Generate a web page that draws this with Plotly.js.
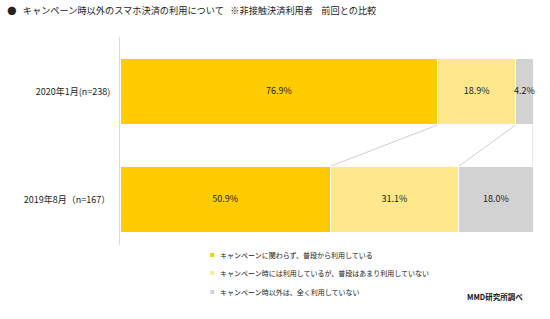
<!DOCTYPE html>
<html>
<head>
<meta charset="utf-8">
<script src="https://cdn.plot.ly/plotly-3.0.1.min.js"></script>
<style>html,body{margin:0;padding:0;background:#fff;}#chart{width:550px;height:319px;}</style>
</head>
<body>
<div id="chart"></div>
<script>
const categories = ["2019年8月（n=167）", "2020年1月(n=238)"];
const seriesNames = [
  "キャンペーンに関わらず、普段から利用している",
  "キャンペーン時には利用しているが、普段はあまり利用していない",
  "キャンペーン時以外は、全く利用していない"
];
const usesAlways = [50.9, 76.9];
const usesCampaignOnly = [31.1, 18.9];
const neverOutside = [18.0, 4.2];
const colors = ["#FFCC00", "#FFE88C", "#D2D2D2"];
const titleText = "●\u2002\u2009キャンペーン時以外のスマホ決済の利用について\u2002\u2009※非接触決済利用者\u2002\u2009\u2009前回との比較";
const sourceText = "MMD研究所調べ";

const series = [usesAlways, usesCampaignOnly, neverOutside];
const barWidth = 0.617;
const font = "'Noto Sans CJK JP', 'Noto Sans', sans-serif";

const traces = series.map((vals, i) => ({
  type: "bar",
  orientation: "h",
  name: seriesNames[i],
  y: categories,
  x: vals,
  width: barWidth,
  marker: {color: colors[i], line: {color: "#ffffff", width: 1}},
  hoverinfo: "skip",
  showlegend: false
}));

// value labels centred on each segment
const lx = [], ly = [], lt = [];
categories.forEach((c, ci) => {
  let acc = 0;
  series.forEach(vals => {
    lx.push(acc + vals[ci] / 2); ly.push(c); lt.push(vals[ci].toFixed(1) + "%");
    acc += vals[ci];
  });
});
traces.push({type: "scatter", mode: "text", x: lx, y: ly, text: lt,
  textposition: "middle center", textfont: {family: font, size: 9, color: "#222"},
  hoverinfo: "skip", showlegend: false, cliponaxis: false});

// connector lines between cumulative boundaries
const shapes = [];
const cumOld = [], cumNew = [];
let a = 0, b = 0;
for (let i = 0; i < series.length; i++) {
  a += series[i][1]; b += series[i][0];
  cumNew.push(a); cumOld.push(b);
}
for (let i = 0; i < cumNew.length; i++) {
  const xTop = i === cumNew.length - 1 ? 100 : cumNew[i];
  const xBot = i === cumOld.length - 1 ? 100 : cumOld[i];
  shapes.push({type: "line", xref: "x", yref: "y",
    x0: xTop, y0: 1 - barWidth / 2, x1: xBot, y1: barWidth / 2,
    line: {color: "#CFCFCF", width: 1}, layer: "below"});
}

// legend (manual)
const legendY = [-0.048, -0.1346, -0.226];
const annotations = [];
seriesNames.forEach((n, i) => {
  shapes.push({type: "rect", xref: "paper", yref: "paper",
    x0: 0.2185, x1: 0.2282, y0: legendY[i] - 0.0096, y1: legendY[i] + 0.0096,
    fillcolor: colors[i], line: {width: 0}});
  annotations.push({xref: "paper", yref: "paper", x: 0.2373, y: legendY[i],
    xanchor: "left", yanchor: "middle", showarrow: false, text: n,
    font: {family: font, size: 7, color: "#222"}});
});
annotations.push({xref: "paper", yref: "paper", x: 0.9806, y: -0.249,
  xanchor: "right", yanchor: "middle", showarrow: false,
  text: "<b>" + sourceText + "</b>", font: {family: font, size: 7.5, color: "#111"}});

const layout = {
  width: 550, height: 319,
  margin: {l: 120, r: 17, t: 37, b: 74},
  paper_bgcolor: "#fff", plot_bgcolor: "#fff",
  barmode: "stack",
  title: {text: titleText, x: 0.013, xref: "container", xanchor: "left",
    y: 0.965, yref: "container", yanchor: "middle",
    font: {family: font, size: 9.2, color: "#222"}},
  xaxis: {range: [0, 100], showgrid: false, zeroline: false, showticklabels: false, showline: false, fixedrange: true},
  yaxis: {type: "category", categoryorder: "array", categoryarray: categories,
    range: [-0.42, 1.506], showgrid: false, zeroline: false,
    showline: true, linecolor: "#DADADA", linewidth: 1, ticks: "",
    ticklabelstandoff: 7,
    tickfont: {family: font, size: 9, color: "#222"}},
  shapes: shapes,
  annotations: annotations,
  showlegend: false
};

Plotly.newPlot("chart", traces, layout, {displayModeBar: false, staticPlot: true});
</script>
</body>
</html>
